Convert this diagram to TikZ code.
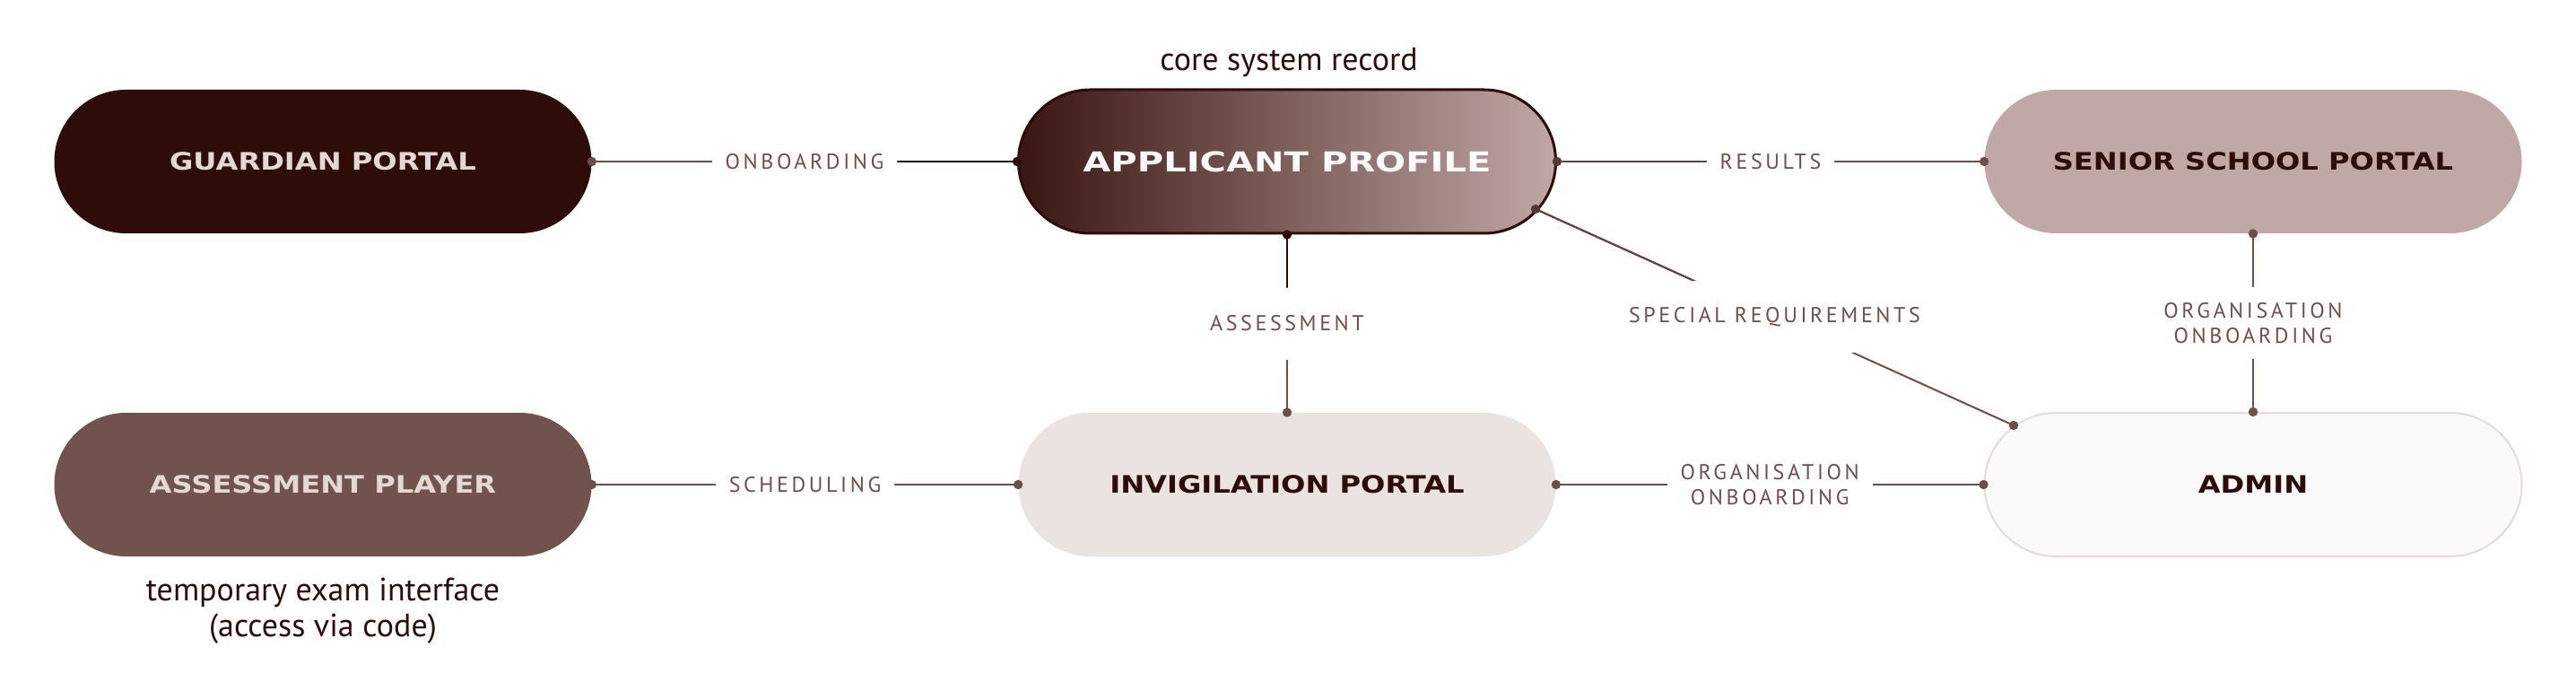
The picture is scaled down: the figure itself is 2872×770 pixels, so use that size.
\documentclass[tikz,border=0pt]{standalone}
\usepackage{fontspec}
\usepackage{graphicx}
\setmainfont{PT Sans}
\newfontfamily\titlefont{DejaVu Sans}
\newfontfamily\lblfont{PT Sans}[LetterSpace=15]
\usetikzlibrary{calc}
\definecolor{dk}{HTML}{2E0D09}
\definecolor{conn}{HTML}{6F4E49}
\definecolor{connb}{HTML}{644440}
\definecolor{dotb}{HTML}{573733}
\definecolor{lt}{HTML}{E2D8D6}
\definecolor{seniorfill}{HTML}{C0A8A6}
\definecolor{playerfill}{HTML}{72524C}
\definecolor{invigfill}{HTML}{EAE3DF}
\definecolor{adminfill}{HTML}{FAFAFA}
\definecolor{adminborder}{HTML}{E4DCD8}
\definecolor{gradL}{HTML}{3A1511}
\definecolor{gradM}{HTML}{7A5853}
\definecolor{gradR}{HTML}{C0A8A6}
\newcommand\nodetitle[1]{\scalebox{1.2}[1]{\titlefont\bfseries\fontsize{13.4}{15}\selectfont #1}}
\newcommand\bigtitle[1]{\scalebox{1.31}[1]{\titlefont\bfseries\fontsize{15.3}{17}\selectfont #1}}
\tikzset{
  pill/.style={rounded corners=40pt, minimum width=299.5pt, minimum height=80pt, inner sep=0pt},
  lbl/.style={fill=white, text=conn, font=\lblfont\fontsize{12}{14}\selectfont, inner xsep=7.5pt, inner ysep=0pt, minimum height=40pt, align=center},
  wire/.style={draw=conn, line width=1pt},
  caption/.style={text=dk, font=\fontsize{18}{20}\selectfont, align=center},
}
\begin{document}
\begin{tikzpicture}[x=0.5pt,y=-0.5pt]
\useasboundingbox (0,0) rectangle (2872,770);
% nodes
\node[pill, fill=dk, text=lt] (g) at (360,180) {\nodetitle{GUARDIAN PORTAL}};
\node[pill, left color=gradL, middle color=gradM, right color=gradR, draw=dk, line width=1.5pt, text=white!94!gradR] (a) at (1435,180) {\bigtitle{APPLICANT PROFILE}};
\node[pill, fill=seniorfill, text=dk] (s) at (2512,180) {\nodetitle{SENIOR SCHOOL PORTAL}};
\node[pill, fill=playerfill, text=lt] (p) at (360,540) {\nodetitle{ASSESSMENT PLAYER}};
\node[pill, fill=invigfill, text=dk] (i) at (1435,540) {\nodetitle{INVIGILATION PORTAL}};
\node[pill, fill=adminfill, draw=adminborder, line width=1pt, text=dk] (ad) at (2512,540) {\nodetitle{ADMIN}};
% captions
\node[caption] (c1) at (1437,70) {core system record};
\node[caption] (c2) at (360,681) {temporary exam interface\\(access via code)};
% connectors
\coordinate (a1) at ($(a.center)+(277,53)$);
\coordinate (d1) at ($(ad.center)+(-267,-66)$);
\draw[wire] (g.east) -- node[lbl] (l1) {ONBOARDING} (a.west);
\draw[wire] (a.east) -- node[lbl] (l2) {RESULTS} (s.west);
\draw[wire] (a.south) -- node[lbl] (l3) {ASSESSMENT} (i.north);
\draw[wire] (s.south) -- node[lbl] (l4) {ORGANISATION\\ONBOARDING} (ad.north);
\draw[wire] (p.east) -- node[lbl] (l5) {SCHEDULING} (i.west);
\draw[wire] (i.east) -- node[lbl] (l6) {ORGANISATION\\ONBOARDING} (ad.west);
\draw[wire] (a1) -- node[lbl] (l7) {SPECIAL REQUIREMENTS} (d1);
% darker halves next to the applicant profile
\draw[wire, draw=dk] (a.west) -- (l1);
\draw[wire, draw=dk] (a.south) -- (l3);
\draw[wire, draw=connb] (a.east) -- (l2);
\draw[wire, draw=connb] (a1) -- (l7);
% dots
\foreach \q in {g.east, s.west, i.north, s.south, ad.north, p.east, i.west, i.east, ad.west, d1}
  \fill[conn] (\q) circle (2.6pt);
\foreach \q in {a.west, a.south}
  \fill[dk] (\q) circle (2.6pt);
\foreach \q in {a.east, a1}
  \fill[dotb] (\q) circle (2.6pt);
\end{tikzpicture}
\end{document}
